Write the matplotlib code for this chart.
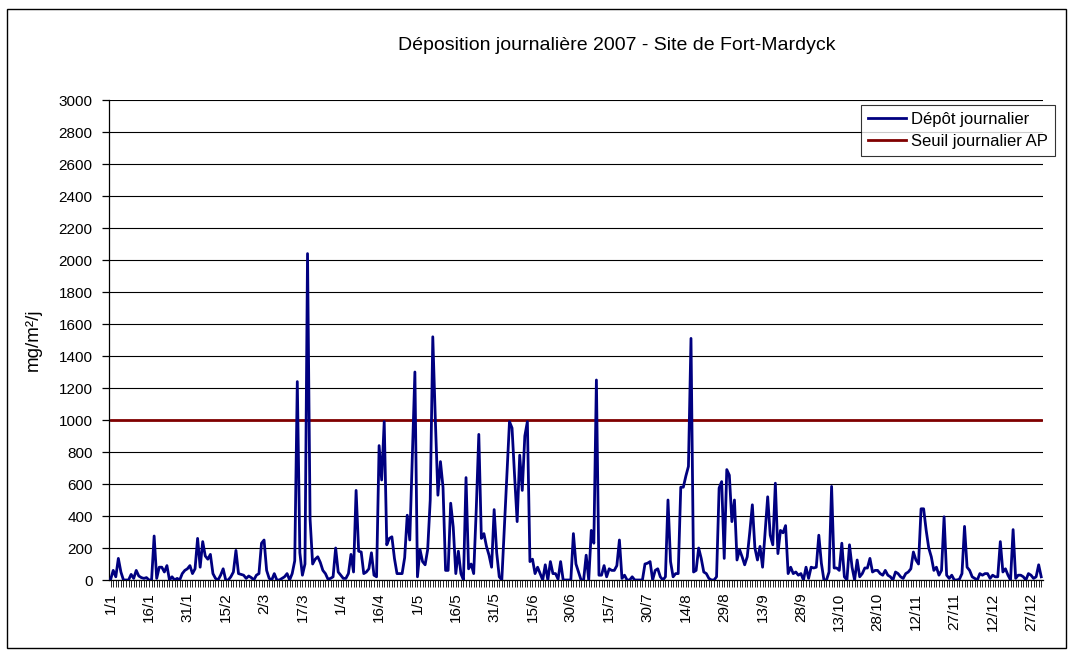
import matplotlib
matplotlib.use("Agg")
import matplotlib.pyplot as plt
from matplotlib.patches import Rectangle
import numpy as np

# Daily deposition 2007, mg/m²/day, one list per month
jan = [5, 60, 20, 135, 50, 0, 0, 0, 35, 10, 60, 25, 15, 10, 15, 0, 0, 275, 10, 80,
       80, 50, 90, 0, 20, 0, 10, 0, 40, 60, 70]
feb = [90, 40, 70, 260, 80, 240, 150, 130, 160, 40, 10, 0, 30, 70, 0, 0, 20, 50, 185, 40,
       35, 30, 10, 25, 15, 0, 30, 40]
mar = [230, 250, 60, 10, 0, 40, 0, 0, 10, 20, 40, 0, 40, 120, 1240, 170, 30, 100, 2040, 380,
       100, 130, 145, 110, 60, 40, 5, 10, 20, 200, 50]
apr = [30, 10, 10, 40, 160, 50, 560, 180, 175, 40, 50, 70, 170, 30, 20, 840, 625, 990, 220, 260,
       270, 135, 40, 40, 40, 140, 405, 250, 780, 1300]
may = [20, 190, 115, 95, 190, 500, 1520, 1000, 530, 740, 580, 60, 60, 480, 330, 40, 180, 40, 0, 640,
       70, 100, 40, 440, 910, 260, 290, 210, 155, 80, 440]
jun = [170, 20, 0, 330, 660, 990, 950, 650, 365, 780, 560, 900, 990, 115, 130, 40, 80, 40, 0, 95,
       0, 115, 40, 40, 5, 115, 0, 0, 0, 0]
jul = [290, 100, 50, 0, 0, 155, 0, 310, 230, 1250, 30, 30, 90, 20, 70, 60, 60, 90, 250, 10,
       30, 0, 0, 20, 0, 0, 0, 0, 100, 105, 115]
aug = [0, 60, 70, 20, 0, 20, 500, 115, 20, 40, 40, 580, 580, 650, 710, 1510, 50, 60, 200, 135,
       50, 40, 10, 0, 0, 20, 575, 615, 135, 690, 655]
sep = [365, 500, 125, 190, 145, 95, 145, 300, 470, 200, 125, 210, 80, 300, 520, 280, 220, 605, 165, 310,
       295, 340, 40, 80, 40, 50, 30, 40, 0, 80]
oct_ = [10, 80, 75, 80, 280, 105, 0, 0, 50, 585, 75, 75, 60, 230, 20, 0, 220, 80, 0, 125,
        20, 40, 75, 75, 135, 50, 60, 60, 40, 30, 60]
nov = [30, 20, 0, 50, 40, 20, 10, 40, 50, 70, 175, 125, 100, 445, 445, 310, 200, 145, 60, 80,
       30, 60, 395, 30, 10, 30, 0, 0, 5, 40]
dec = [335, 80, 60, 20, 10, 0, 40, 30, 40, 40, 10, 30, 20, 20, 240, 50, 70, 30, 0, 315,
       10, 30, 30, 20, 0, 40, 30, 10, 20, 95, 20]

daily = jan + feb + mar + apr + may + jun + jul + aug + sep + oct_ + nov + dec
threshold = 1000

tick_labels = ["1/1", "16/1", "31/1", "15/2", "2/3", "17/3", "1/4", "16/4", "1/5", "16/5",
               "31/5", "15/6", "30/6", "15/7", "30/7", "14/8", "29/8", "13/9", "28/9",
               "13/10", "28/10", "12/11", "27/11", "12/12", "27/12"]
y_ticks = list(range(0, 3001, 200))

plt.rcParams['font.family'] = ['Liberation Sans', 'DejaVu Sans']

W, H = 1074, 657
fig = plt.figure(figsize=(W / 100, H / 100), dpi=100)

# plot area in pixels
left, right, top, bottom = 109.4, 1042.5, 100, 580
ax = fig.add_axes([left / W, (H - bottom) / H, (right - left) / W, (bottom - top) / H])

x = np.arange(len(daily))
ax.plot(x, daily, color='#000080', lw=2.0, solid_joinstyle='round',
        label='Dépôt journalier', zorder=3)
ax.plot(x, [threshold] * len(x), color='#800000', lw=2.0,
        label='Seuil journalier AP', zorder=2)

ax.set_xlim(-0.5, len(x) - 0.5)
ax.set_ylim(0, 3000)
ax.set_yticks(y_ticks)
ax.set_yticklabels([str(v) for v in y_ticks], fontsize=11)
ax.yaxis.grid(True, color='black', lw=0.8)
ax.set_axisbelow(True)

for s in ['top', 'right']:
    ax.spines[s].set_visible(False)
for s in ['left', 'bottom']:
    ax.spines[s].set_color('black')
    ax.spines[s].set_linewidth(0.9)

ax.set_xticks(x, minor=True)
ax.set_xticks(x[::15])
ax.set_xticklabels(tick_labels, rotation=90, fontsize=11)
ax.tick_params(axis='x', which='both', length=5, width=0.6, direction='out', pad=4)
ax.tick_params(axis='y', length=5, width=0.9, pad=7)

ax.set_ylabel('mg/m²/j', fontsize=13.5)
ax.yaxis.set_label_coords((42 - left) / (right - left), 0.5)

fig.text(617 / W, 1 - 45 / H, 'Déposition journalière 2007 - Site de Fort-Mardyck',
         ha='center', va='center', fontsize=14)

leg = ax.legend(loc='upper right', bbox_to_anchor=(1055 / W, 1 - 105 / H),
                bbox_transform=fig.transFigure, fontsize=12, frameon=True,
                fancybox=False, borderaxespad=0, handlelength=2.3,
                handletextpad=0.3, labelspacing=0.45, borderpad=0.4)
leg.get_frame().set_edgecolor('black')
leg.get_frame().set_linewidth(0.8)

# chart border
fig.patches.append(Rectangle((7 / W, 9 / H), 1059 / W, 639 / H, transform=fig.transFigure,
                             fill=False, edgecolor='black', lw=1.0))

fig.savefig('out.png', dpi=100)
